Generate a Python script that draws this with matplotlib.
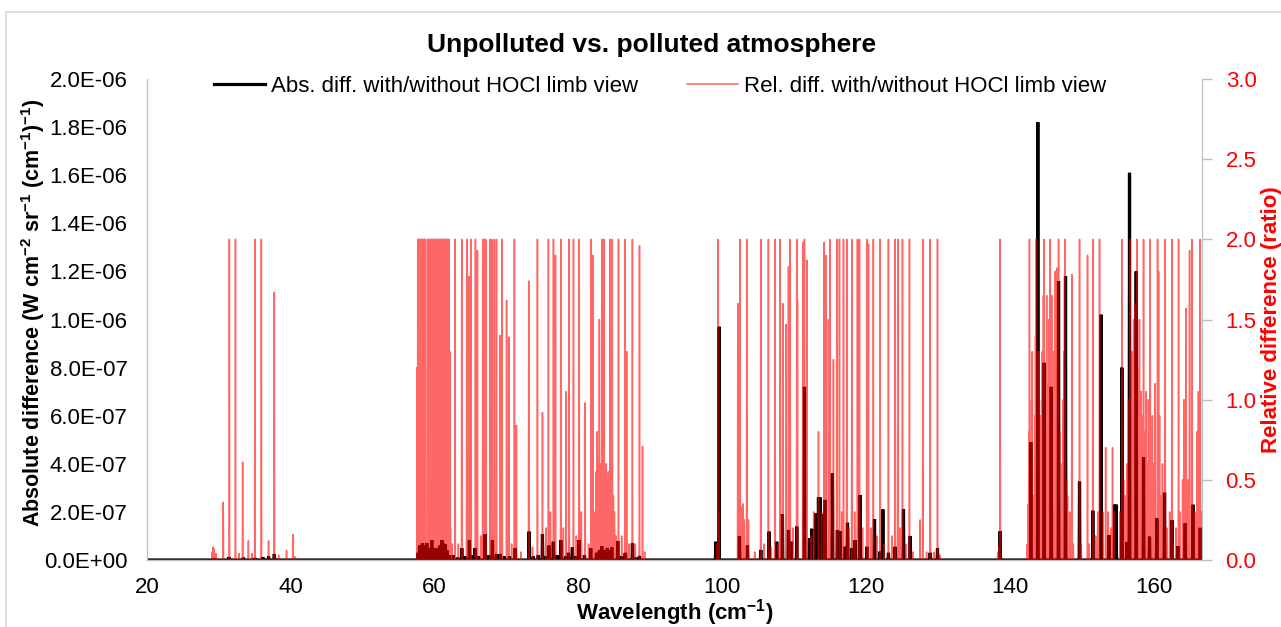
import matplotlib
matplotlib.use("Agg")
import matplotlib.pyplot as plt
from matplotlib.patches import Rectangle
from matplotlib.ticker import FixedLocator, FuncFormatter

plt.rcParams["font.family"] = ["Liberation Sans", "DejaVu Sans"]
plt.rcParams["mathtext.fontset"] = "custom"
plt.rcParams["mathtext.rm"] = "Liberation Sans"
plt.rcParams["mathtext.bf"] = "Liberation Sans:bold"
plt.rcParams["mathtext.it"] = "Liberation Sans:italic"

# Relative difference spectrum: line positions (cm-1) and peak ratio
rel_x = [
    # 28-41 cm-1
    29.05, 29.2, 29.35, 29.6, 30.6, 31.45, 32.3, 32.8, 33.3, 34.1, 34.6, 35.0, 35.9, 36.9, 37.7, 38.3, 39.4, 40.3, 40.6,
    # 57-62 cm-1
    57.55, 57.65, 57.75, 57.85, 57.95, 58.05, 58.15, 58.3, 58.4, 58.5, 58.6, 58.72, 59.02, 59.15, 59.3, 59.4, 59.5,
    59.6, 59.7, 59.85, 59.95, 60.05, 60.15, 60.3, 60.4, 60.5, 60.6, 60.7, 60.85, 60.95, 61.05, 61.2, 61.3, 61.4, 61.5,
    61.6, 61.7, 61.8, 61.9, 62.0, 62.1, 62.2, 62.4,
    # 62-89 cm-1
    62.84, 63.3, 63.77, 64.46, 64.79, 65.06, 65.67, 65.95, 66.4, 66.69, 66.87, 67.1, 67.7, 67.94, 68.3, 68.6, 69.1,
    69.38, 70.0, 70.3, 70.7, 71.09, 71.37, 72.0, 73.08, 73.6, 74.29, 74.99, 75.5, 75.82, 76.1, 76.52, 76.8, 77.54,
    77.9, 78.28, 78.7, 79.3, 79.7, 80.1, 80.4, 80.92, 81.4, 81.75, 81.99,
    82.3, 82.45, 82.6, 82.75, 82.9, 83.05, 83.24, 83.4, 83.56, 83.7, 83.85, 84.0, 84.15, 84.4, 84.55, 84.7, 84.85,
    85.0, 85.2, 85.56, 86.0, 86.48, 86.7, 87.0, 87.5, 87.9, 88.48, 88.9, 89.2,
    # 99-131 cm-1
    99.2, 99.4, 99.55, 102.15, 102.3, 102.47, 102.6, 102.75, 102.9, 103.05, 103.4, 103.63, 104.5, 105.35, 105.8,
    106.41, 106.8, 107.34, 107.7, 108.04, 108.4, 108.87, 109.2, 109.43, 109.8, 110.35, 110.45, 111.19, 111.42,
    111.75, 112.3, 112.7, 113.37, 113.8, 114.16, 114.43, 114.76, 115.0, 115.45, 115.92, 116.29, 116.6, 116.85,
    117.3, 117.6, 118.0, 118.4, 118.79, 119.07, 119.5, 120.09, 120.32, 120.7, 121.0, 121.5, 121.94, 122.5, 123.1,
    123.6, 124.03, 124.4, 124.7, 125.05, 125.5, 126.02, 126.5, 127.5, 127.88, 128.4, 128.9, 129.4, 129.92, 130.3,
    # 138-167 cm-1
    138.3, 138.5, 138.63,
    142.4, 142.55, 142.62, 142.71, 142.85, 143.0, 143.1, 143.2, 143.35, 143.45, 143.55, 143.64, 143.75, 143.9,
    144.0, 144.1, 144.2, 144.3, 144.4, 144.5, 144.65, 144.75, 144.9, 145.0, 145.1, 145.2, 145.3, 145.4, 145.59,
    145.7, 145.8, 145.9, 146.0, 146.1, 146.2, 146.3, 146.4, 146.5, 146.6, 146.75, 146.9, 147.1, 147.25, 147.4,
    147.5, 147.67, 147.85, 148.0, 148.3, 148.6, 148.8, 149.67, 149.9, 150.78, 151.0, 151.52, 151.9, 152.2, 152.45,
    152.9, 153.3, 153.61, 154.0, 154.26, 154.5, 155.3, 155.56, 155.8, 156.0, 156.3, 156.5, 156.72, 156.9, 157.0,
    157.2, 157.35, 157.5, 157.64, 157.8, 158.0, 158.1, 158.25, 158.4, 158.57, 158.75, 158.9, 159.1, 159.25, 159.5,
    159.65, 159.8, 160.0, 160.2, 160.52, 160.66, 160.8, 161.0, 161.2, 161.58, 161.8, 162.2, 162.51, 162.7, 163.1,
    163.44, 163.6, 164.0, 164.2, 164.5, 164.7, 164.97, 165.29, 165.5, 165.7, 166.0, 166.2, 166.45, 166.6,
]
rel_y = [
    # 28-41 cm-1
    0.05, 0.08, 0.07, 0.04, 0.36, 2.0, 2.0, 0.04, 0.61, 0.12, 0.04, 2.0, 2.0, 0.12, 1.67, 0.03, 0.06, 0.16, 0.02,
    # 57-62 cm-1
    1.2, 2.0, 2.0, 2.0, 1.75, 2.0, 2.0, 2.0, 1.6, 2.0, 2.0, 2.0, 2.0, 2.0, 2.0, 0.4, 2.0,
    2.0, 2.0, 2.0, 2.0, 1.9, 2.0, 2.0, 2.0, 1.6, 2.0, 2.0, 2.0, 2.0, 2.0, 1.95, 2.0, 2.0, 2.0,
    2.0, 1.8, 2.0, 2.0, 2.0, 1.3, 0.2, 0.1,
    # 62-89 cm-1
    2.0, 0.1, 2.0, 2.0, 1.77, 2.0, 2.0, 1.93, 0.15, 2.0, 2.0, 2.0, 2.0, 2.0, 2.0, 2.0, 1.4,
    2.0, 1.62, 1.39, 0.1, 2.0, 0.84, 0.05, 1.74, 0.08, 2.0, 0.92, 0.2, 2.0, 0.3, 2.0, 1.9, 2.0,
    0.2, 1.05, 2.0, 2.0, 0.15, 2.0, 0.3, 0.98, 0.1, 2.0, 1.9,
    0.3, 0.55, 0.8, 0.6, 1.5, 0.6, 2.0, 0.6, 2.0, 0.55, 0.6, 0.5, 0.55, 2.0, 0.5, 2.0, 0.4,
    0.3, 0.15, 2.0, 0.15, 2.0, 1.3, 0.1, 2.0, 0.1, 1.96, 0.71, 0.05,
    # 99-131 cm-1
    0.1, 2.0, 0.3, 1.6, 0.35, 2.0, 0.33, 0.3, 0.35, 0.25, 2.0, 0.25, 0.05, 2.0, 0.1,
    2.0, 0.08, 2.0, 0.1, 2.0, 1.6, 1.47, 1.83, 2.0, 0.2, 2.0, 1.62, 1.98, 2.0,
    1.87, 0.15, 0.3, 0.8, 0.3, 1.98, 1.9, 1.5, 2.0, 1.25, 2.0, 2.0, 0.3, 2.0,
    2.0, 0.2, 2.0, 0.3, 2.0, 2.0, 0.2, 2.0, 1.97, 0.2, 2.0, 0.15, 2.0, 0.1, 2.0,
    0.15, 2.0, 2.0, 0.2, 2.0, 0.1, 2.0, 0.05, 0.25, 2.0, 0.05, 2.0, 0.05, 2.0, 0.03,
    # 138-167 cm-1
    0.05, 0.08, 2.0,
    0.1, 0.35, 0.8, 2.0, 0.6, 1.0, 1.3, 0.4, 0.3, 0.9, 1.4, 2.0, 1.3, 1.0,
    1.3, 0.4, 0.9, 0.5, 1.0, 1.3, 1.65, 2.0, 0.8, 0.6, 1.65, 1.1, 0.9, 1.5, 2.0,
    1.2, 1.65, 0.7, 0.8, 1.3, 1.0, 1.8, 1.2, 1.82, 1.0, 2.0, 0.8, 0.3, 0.6, 1.0,
    1.3, 2.0, 0.5, 0.4, 0.3, 1.78, 0.1, 2.0, 0.1, 1.9, 0.1, 2.0, 0.15, 0.3, 2.0,
    0.3, 0.7, 0.3, 0.2, 0.7, 0.3, 0.3, 2.0, 0.5, 0.4, 0.6, 1.0, 2.0, 1.0, 1.3,
    1.5, 1.6, 1.2, 2.0, 1.2, 1.5, 0.8, 1.05, 0.9, 2.0, 0.8, 1.05, 0.6, 1.0, 2.0,
    0.4, 0.9, 0.6, 1.1, 2.0, 1.8, 0.9, 0.4, 0.6, 2.0, 0.2, 0.3, 2.0, 0.1, 0.2,
    2.0, 0.3, 0.5, 1.0, 1.57, 0.5, 1.93, 2.0, 0.3, 0.3, 0.8, 1.05, 2.0, 0.3,
]

# Absolute difference spectrum: line positions (cm-1) and radiance difference
abs_x = [
    29.3, 31.4, 33.4, 35.0, 36.1, 36.9, 37.7,
    57.7, 57.9, 58.1, 58.3, 58.5, 58.7, 58.9, 59.1, 59.3, 59.6, 59.8, 60.05, 60.3, 60.5, 60.75, 61.0, 61.2, 61.45,
    61.7, 62.0, 62.6, 63.2, 63.77, 64.2, 64.83, 65.3, 65.6, 66.1, 67.0, 67.5, 68.03, 68.6, 69.1, 69.7, 70.4, 71.2,
    73.13, 73.7, 74.4, 74.99, 75.5, 75.9, 76.5, 77.0, 77.54, 78.2, 78.6, 79.15, 79.6, 80.09, 80.83, 81.7, 82.5,
    82.9, 83.24, 83.6, 84.0, 84.3, 84.63, 85.46, 86.0, 86.5, 87.5, 88.0, 88.48,
    99.09, 99.55, 102.38, 103.49, 105.35, 106.5, 107.57, 108.36, 109.2, 109.57, 110.35, 111.42, 112.12, 112.44,
    113.04, 113.37, 113.6, 113.97, 114.3, 115.31, 116.0, 116.38, 117.08, 117.4, 118.0, 118.47, 119.16, 120.09,
    121.16, 121.94, 122.32, 123.1, 124.03, 125.19, 126.12, 128.9, 129.92,
    138.63, 142.9, 143.87, 144.75, 145.73, 146.75, 147.72, 149.67, 151.52, 152.68, 153.75, 154.54, 154.77,
    155.56, 156.25, 156.62, 157.55, 158.57, 159.4, 160.42, 161.49, 162.51, 163.34, 164.36, 165.43, 166.45,
]
abs_y = [
    5e-9, 1.2e-8, 1e-8, 8e-9, 1.2e-8, 1.5e-8, 2.5e-8,
    3e-8, 6e-8, 4e-8, 7e-8, 6e-8, 4e-8, 7e-8, 5e-8, 3e-8, 8.3e-8, 5e-8, 2e-8, 5e-8, 3e-8, 6e-8, 8.3e-8, 7e-8, 6.6e-8,
    4e-8, 2e-8, 2e-8, 1e-8, 4.9e-8, 1.5e-8, 8.3e-8, 2e-8, 4.9e-8, 1.5e-8, 1.08e-7, 2e-8, 8.3e-8, 2.5e-8, 2.5e-8, 1.5e-8, 1.5e-8, 5e-8,
    1.18e-7, 1.5e-8, 2e-8, 1.08e-7, 1.5e-8, 6e-8, 7.6e-8, 2e-8, 8.3e-8, 1.5e-8, 3e-8, 5.2e-8, 1.5e-8, 8.3e-8, 2e-8, 4.9e-8, 3e-8,
    4e-8, 5.8e-8, 4e-8, 5e-8, 4e-8, 5.3e-8, 7.9e-8, 1.5e-8, 3e-8, 6.9e-8, 1e-8, 1.7e-8,
    7.6e-8, 9.7e-7, 1.0e-7, 6.2e-8, 4.2e-8, 1.18e-7, 7.6e-8, 1.9e-7, 1.25e-7, 7.6e-8, 1.39e-7, 7.2e-7, 9e-8, 1.3e-7,
    1.94e-7, 2.6e-7, 2.6e-7, 1.9e-7, 2.5e-7, 3.6e-7, 1.25e-7, 1.2e-7, 5.5e-8, 1.55e-7, 5e-8, 8.3e-8, 2.7e-7, 5.5e-8,
    1.7e-7, 3.5e-8, 2.1e-7, 3e-8, 5.5e-8, 2.1e-7, 1.0e-7, 3e-8, 4.9e-8,
    1.2e-7, 4.9e-7, 1.82e-6, 8.2e-7, 7.2e-7, 1.16e-6, 1.18e-6, 3.26e-7, 2.05e-7, 1.02e-6, 1.04e-7, 2.3e-7, 2.3e-7,
    8.0e-7, 7.5e-8, 1.61e-6, 1.2e-6, 4.27e-7, 9.7e-8, 1.73e-7, 2.8e-7, 1.66e-7, 5.8e-8, 1.52e-7, 2.3e-7, 1.34e-7,
]

x_ticks = [20, 40, 60, 80, 100, 120, 140, 160]
x_range = (20, 166.7)


def spectrum(xs, ys, half_width, lo, hi):
    """Turn a list of line centres and peak values into a continuous trace."""
    tx, ty = [lo], [0.0]
    for x, y in sorted(zip(xs, ys)):
        tx += [x - half_width, x, x + half_width]
        ty += [0.0, y, 0.0]
    tx.append(hi)
    ty.append(0.0)
    return tx, ty


W, H = 1281, 627
fig = plt.figure(figsize=(W / 100, H / 100), dpi=100)
fig.patches.append(Rectangle((6 / W, -0.02), 1.05, 1 - 12 / H + 0.02, transform=fig.transFigure,
                             fill=False, edgecolor="#D9D9D9", linewidth=1.2))

ax = fig.add_axes([147 / W, 1 - 560 / H, (1202 - 147) / W, (560 - 79) / H])
ax2 = ax.twinx()

bx, by = spectrum(abs_x, abs_y, 0.05, *x_range)
rx, ry = spectrum(rel_x, rel_y, 0.04, *x_range)
l1, = ax.plot(bx, by, color="black", linewidth=2.3, solid_joinstyle="miter")
l2, = ax2.plot(rx, ry, color="red", alpha=0.6, linewidth=1.1)

ax.set_xlim(*x_range)
ax.set_ylim(0, 2e-6)
ax2.set_ylim(0, 3)
ax.xaxis.set_major_locator(FixedLocator(x_ticks))
ax.yaxis.set_major_locator(FixedLocator([i * 2e-7 for i in range(11)]))
ax.yaxis.set_major_formatter(FuncFormatter(lambda v, p: f"{v:.1E}"))
ax2.yaxis.set_major_locator(FixedLocator([i * 0.5 for i in range(7)]))
ax2.yaxis.set_major_formatter(FuncFormatter(lambda v, p: f"{v:.1f}"))

for a in (ax, ax2):
    a.spines["top"].set_visible(False)
    a.spines["left"].set_color("#BFBFBF")
    a.spines["right"].set_color("#BFBFBF")
    a.spines["bottom"].set_color("#BFBFBF")
ax.tick_params(axis="y", length=0, pad=14, labelsize=16, labelcolor="black")
ax.tick_params(axis="x", length=0, pad=12, labelsize=16)
ax2.tick_params(axis="y", length=7, width=1, color="#BFBFBF", pad=10, labelsize=16, labelcolor="red")

fig.text(652 / W, 1 - 45 / H, "Unpolluted vs. polluted atmosphere", ha="center", va="center",
         fontsize=19, fontweight="bold")
fig.text(33 / W, 1 - 313 / H,
         r"Absolute difference (W cm$^{\mathbf{-2}}$ sr$^{\mathbf{-1}}$ (cm$^{\mathbf{-1}}$)$^{\mathbf{-1}}$)",
         rotation=90, ha="center", va="center", fontsize=15.5, fontweight="bold")
fig.text(1272 / W, 1 - 320 / H, "Relative difference (ratio)", rotation=90, ha="center", va="center",
         fontsize=16, fontweight="bold", color="red")
fig.text(675 / W, 1 - 613 / H, r"Wavelength (cm$^{\mathbf{-1}}$)", ha="center", va="center",
         fontsize=16, fontweight="bold")

fig.legend([l1, l2], ["Abs. diff. with/without HOCl limb view", "Rel. diff. with/without HOCl limb view"],
           loc="center", bbox_to_anchor=(660 / W, 1 - 86 / H), ncol=2, frameon=False, fontsize=16,
           handlelength=2.3, handletextpad=0.25, columnspacing=2.2, borderpad=0, borderaxespad=0)

fig.savefig("out.png", dpi=100)
